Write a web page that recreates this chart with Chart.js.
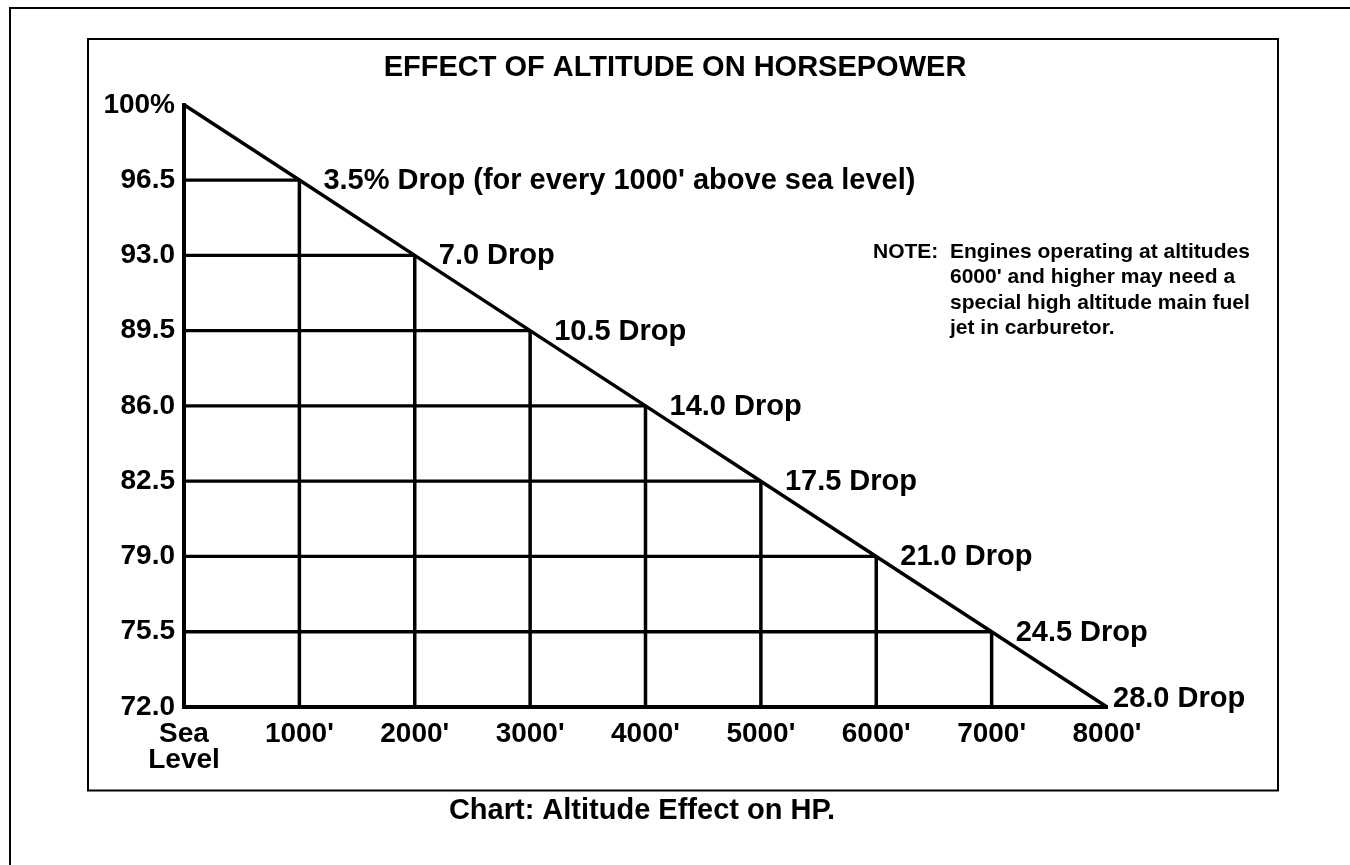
<!DOCTYPE html>
<html>
<head>
<meta charset="utf-8">
<script src="https://cdn.jsdelivr.net/npm/chart.js@4.4.1/dist/chart.umd.min.js"></script>
<style>
  html, body { margin: 0; padding: 0; background: #ffffff; }
  #wrap { width: 1350px; height: 865px; position: relative; }
</style>
</head>
<body>
<div id="wrap"><canvas id="c" width="1350" height="865"></canvas></div>
<script>
// ---- Data ----
const altitudes = [0, 1000, 2000, 3000, 4000, 5000, 6000, 7000, 8000];
const horsepower = [100, 96.5, 93.0, 89.5, 86.0, 82.5, 79.0, 75.5, 72.0];
const xTickLabels = [["Sea", "Level"], "1000'", "2000'", "3000'", "4000'", "5000'", "6000'", "7000'", "8000'"];
const yTickLabels = ["100%", "96.5", "93.0", "89.5", "86.0", "82.5", "79.0", "75.5", "72.0"];
const dropLabels = ["", "3.5% Drop (for every 1000' above sea level)", "7.0 Drop", "10.5 Drop", "14.0 Drop", "17.5 Drop", "21.0 Drop", "24.5 Drop", "28.0 Drop"];
const titleText = "EFFECT OF ALTITUDE ON HORSEPOWER";
const noteLead = "NOTE:";
const noteLines = ["Engines operating at altitudes", "6000' and higher may need a", "special high altitude main fuel", "jet in carburetor."];
const captionText = "Chart: Altitude Effect on HP.";

// ---- Derived datasets ----
const FONT = "'Liberation Sans', Arial, Helvetica, sans-serif";
const baseHP = Math.min(...horsepower);
const diagonal = altitudes.map((a, i) => ({ x: a, y: horsepower[i] }));
const hSegs = [];
const vSegs = [];
for (let i = 1; i < altitudes.length - 1; i++) {
  hSegs.push({ x: altitudes[0], y: horsepower[i] }, { x: altitudes[i], y: horsepower[i] }, { x: altitudes[i], y: null });
  vSegs.push({ x: altitudes[i], y: baseHP }, { x: altitudes[i], y: horsepower[i] }, { x: altitudes[i], y: null });
}

function lineStyle(w) {
  return {
    borderColor: '#000000',
    borderWidth: w,
    pointRadius: 0,
    pointHoverRadius: 0,
    tension: 0,
    fill: false,
    spanGaps: false,
    clip: false,
    borderCapStyle: 'butt',
    borderJoinStyle: 'miter'
  };
}

const decor = {
  id: 'decor',
  beforeDraw(chart) {
    const ctx = chart.ctx;
    ctx.save();
    ctx.fillStyle = '#ffffff';
    ctx.fillRect(0, 0, chart.width, chart.height);
    ctx.strokeStyle = '#000000';
    ctx.lineWidth = 2;
    // outer frame (runs past the right and bottom edges)
    ctx.strokeRect(10, 8, 1400, 900);
    // inner frame
    ctx.strokeRect(88, 39, 1190, 751.5);
    ctx.restore();
  },
  afterDatasetsDraw(chart) {
    const ctx = chart.ctx;
    const meta = chart.getDatasetMeta(0);
    ctx.save();
    ctx.fillStyle = '#000000';
    ctx.font = 'bold 29px ' + FONT;
    ctx.textAlign = 'left';
    ctx.textBaseline = 'middle';
    const last = dropLabels.length - 1;
    dropLabels.forEach((txt, i) => {
      if (!txt) return;
      const pt = meta.data[i];
      const dx = i === last ? 6 : 24;
      const dy = i === last ? -8 : 1;
      ctx.fillText(txt, pt.x + dx, pt.y + dy);
    });
    // note
    ctx.font = 'bold 21px ' + FONT;
    ctx.textBaseline = 'alphabetic';
    ctx.fillText(noteLead, 873, 258);
    noteLines.forEach((ln, i) => ctx.fillText(ln, 950, 258 + i * 25.3));
    // caption
    ctx.font = 'bold 29px ' + FONT;
    ctx.textAlign = 'center';
    ctx.textBaseline = 'middle';
    ctx.fillText(captionText, 642, 811);
    ctx.restore();
  }
};

new Chart(document.getElementById('c'), {
  type: 'line',
  data: {
    datasets: [
      Object.assign({ label: 'Horsepower', data: diagonal }, lineStyle(3.5)),
      Object.assign({ label: 'Level lines', data: hSegs }, lineStyle(3.3)),
      Object.assign({ label: 'Altitude lines', data: vSegs }, lineStyle(3.5))
    ]
  },
  options: {
    responsive: false,
    animation: false,
    devicePixelRatio: 1,
    layout: { padding: 0 },
    events: [],
    plugins: {
      legend: { display: false },
      tooltip: { enabled: false },
      title: {
        display: true,
        text: titleText,
        color: '#000000',
        font: { family: FONT, size: 29, weight: 'bold', lineHeight: 1.2 },
        padding: { top: 51, bottom: 19 }
      }
    },
    scales: {
      x: {
        type: 'linear',
        position: 'bottom',
        min: altitudes[0],
        max: altitudes[altitudes.length - 1],
        grid: { display: false, drawTicks: false },
        border: { display: true, color: '#000000', width: 4 },
        afterBuildTicks: s => { s.ticks = altitudes.map(v => ({ value: v })); },
        afterFit: s => { s.height = 158; },
        ticks: {
          color: '#000000',
          font: { family: FONT, size: 28, weight: 'bold', lineHeight: 0.93 },
          padding: 14,
          autoSkip: false,
          maxRotation: 0,
          minRotation: 0,
          callback: v => xTickLabels[altitudes.indexOf(v)]
        }
      },
      y: {
        type: 'linear',
        position: 'left',
        min: baseHP,
        max: Math.max(...horsepower),
        grid: { display: false, drawTicks: false },
        border: { display: true, color: '#000000', width: 4 },
        afterBuildTicks: s => { s.ticks = horsepower.slice().reverse().map(v => ({ value: v })); },
        afterFit: s => { s.width = 184; },
        ticks: {
          color: '#000000',
          font: { family: FONT, size: 28, weight: 'bold', lineHeight: 1.0 },
          padding: 9,
          autoSkip: false,
          callback: v => yTickLabels[horsepower.indexOf(v)]
        }
      },
      spacer: {
        type: 'linear',
        position: 'right',
        display: true,
        grid: { display: false, drawTicks: false },
        border: { display: false },
        ticks: { display: false },
        afterFit: s => { s.width = 243; }
      }
    }
  },
  plugins: [decor]
});
</script>
</body>
</html>
